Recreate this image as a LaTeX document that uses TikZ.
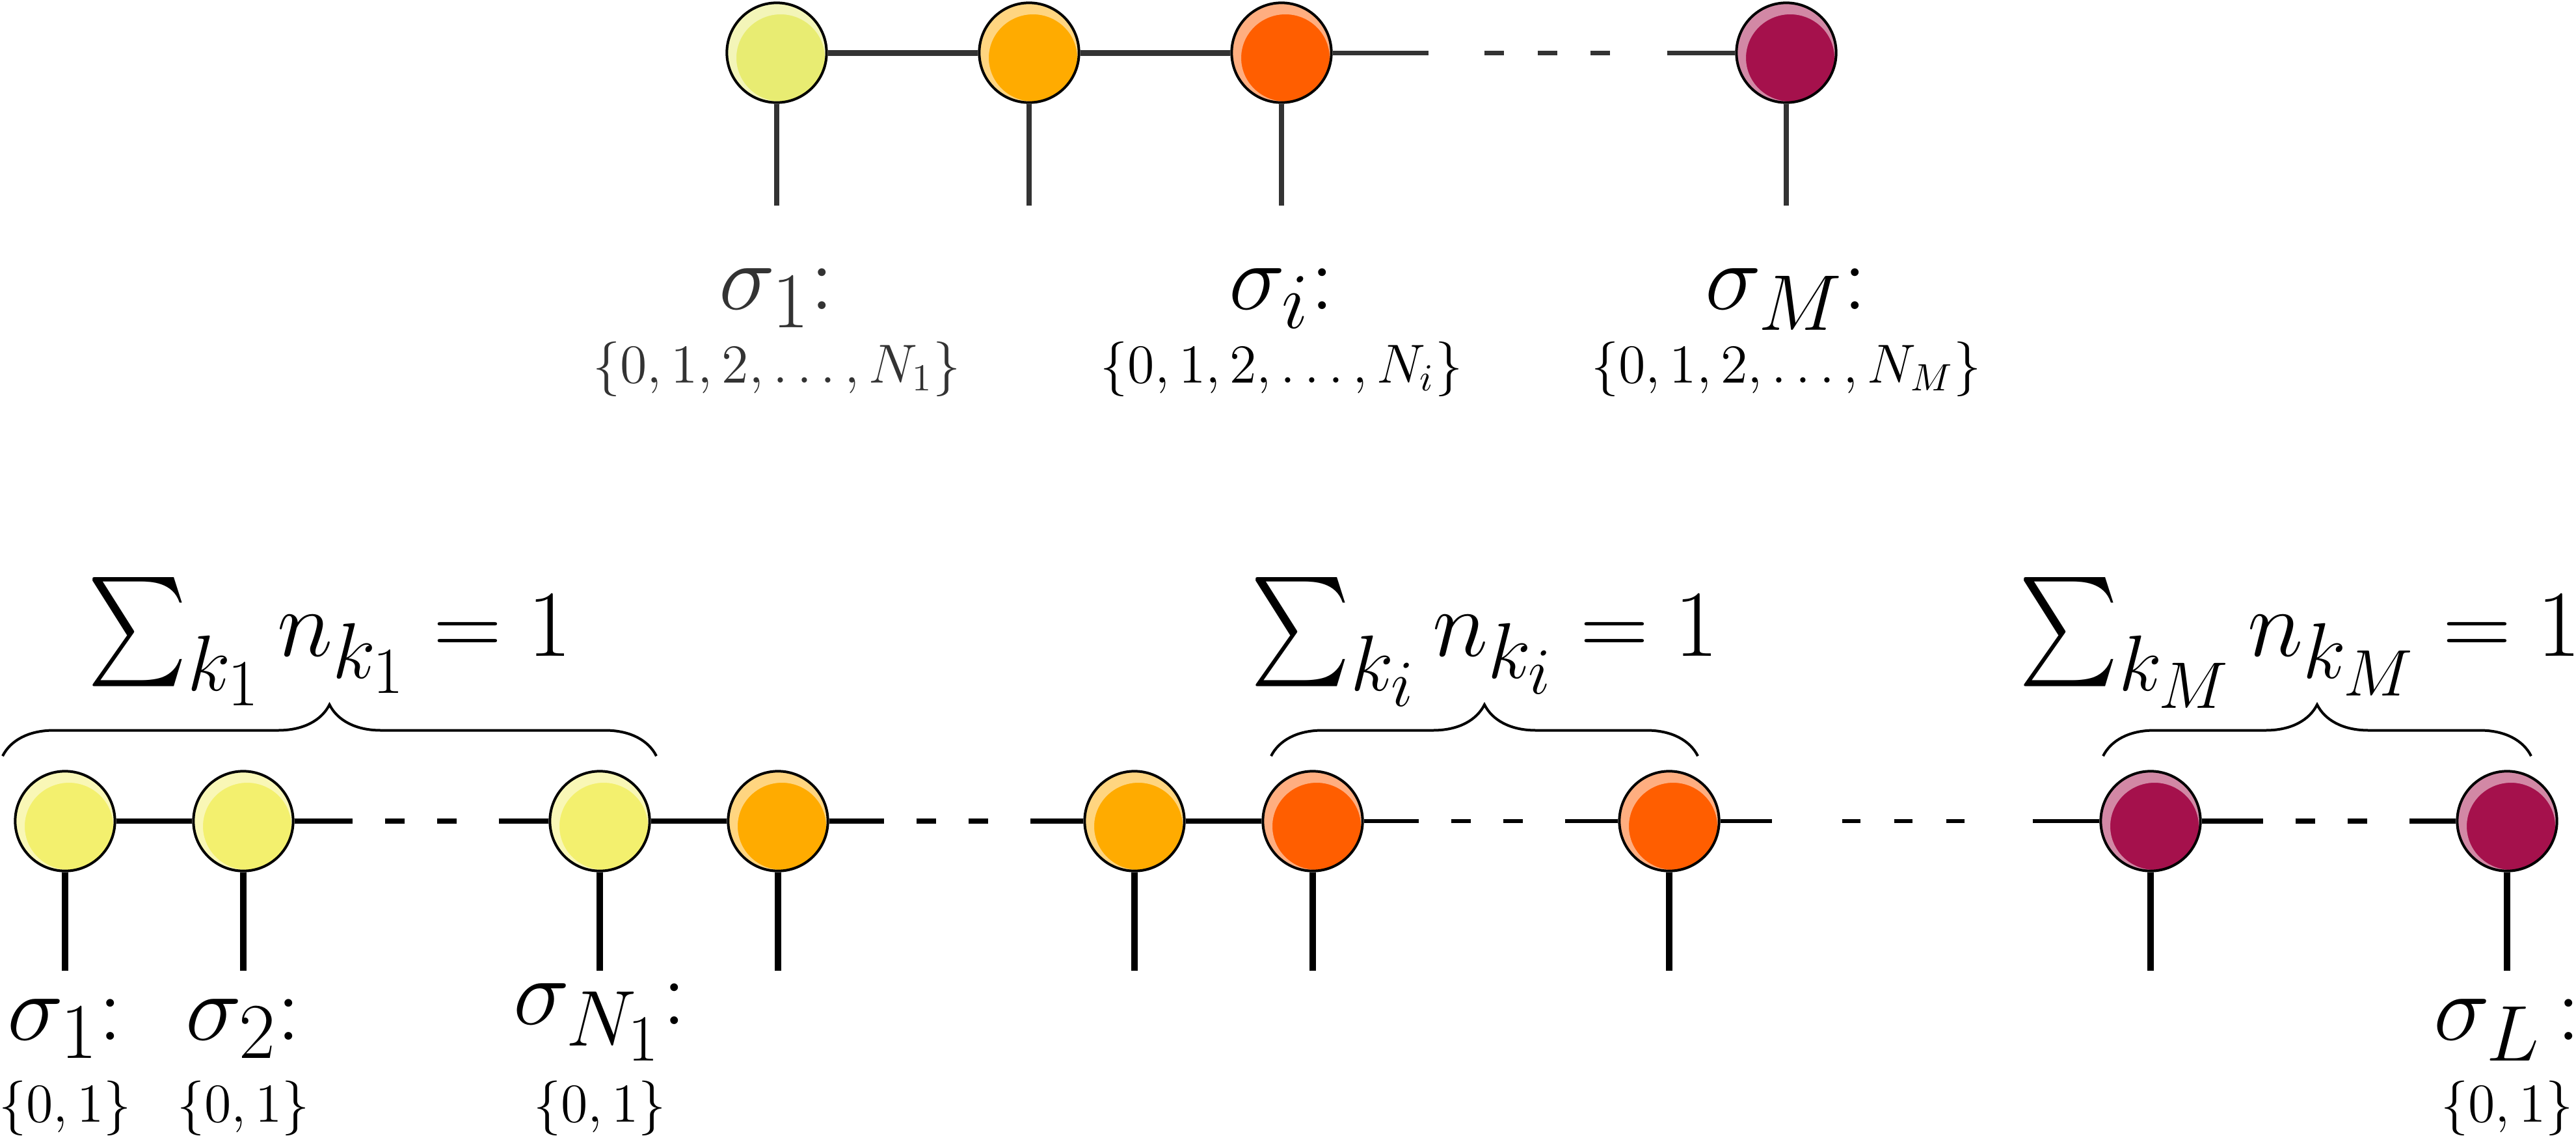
\documentclass[tikz,border=0pt]{standalone}
\usepackage{amsmath}
\usepackage{graphicx}
\usetikzlibrary{positioning, calc, decorations.pathreplacing}

\DeclareMathSizes{24}{24}{19.5}{16.5}

\definecolor{sitea}{HTML}{E8EC72}
\definecolor{sitey}{HTML}{F3F06E}
\definecolor{siteo}{HTML}{FFAB00}
\definecolor{siter}{HTML}{FF5E00}
\definecolor{sitem}{HTML}{A5114C}
\definecolor{bondgray}{HTML}{333333}

% a slightly taller text-style sum
\newcommand{\tallsum}{\mathop{\vcenter{\hbox{\scalebox{1}[1.15]{$\textstyle\sum$}}}}\nolimits}

\tikzset{
    site/.style={circle, draw=black, line width=0.24mm, minimum size=9.2mm, inner sep=0pt, fill=#1,
        path picture={\fill[white, opacity=.5, even odd rule]
            (path picture bounding box.center) circle (5mm)
            ([shift={(0.36mm,-0.48mm)}]path picture bounding box.center) ellipse (4.08mm and 4.02mm);}},
    topbond/.style={draw=bondgray, line width=0.54mm},
    topthin/.style={draw=bondgray, line width=0.42mm},
    topleg/.style={draw=bondgray, line width=0.48mm},
    bond/.style={line width=0.45mm},
    thinbond/.style={line width=0.34mm},
    leg/.style={line width=0.6mm},
    dotbond/.style={dash pattern=on #1 off 3mm on 1.8mm off 3mm on 1.8mm off 3.9mm on 30mm},
    lbl/.style={anchor=base, inner sep=0pt, font=\fontsize{24}{28}\selectfont},
    setlbl/.style={anchor=base, inner sep=0pt, font=\Large},
    smallset/.style={anchor=base, inner sep=0pt, font=\fontsize{13.5}{15}\selectfont},
    sumbrace/.style={decorate, decoration={brace, amplitude=4.74mm}, line width=0.24mm}
}

\begin{document}
\begin{tikzpicture}[x=1mm, y=1mm, node distance=16.44mm, on grid]
    \useasboundingbox (0,0) rectangle (237.6,104.7);

    % top chain
    \node[site=sitea] (t1) at (71.64,99.84) {};
    \node[site=siteo, right=23.28mm of t1] (t2) {};
    \node[site=siter, right=23.28mm of t2] (t3) {};
    \node[site=sitem, right=46.56mm of t3] (t4) {};

    \draw[topbond] (t1) -- (t2) (t2) -- (t3);
    \draw[topthin, dash pattern=on 8.82mm off 5.16mm on 1.8mm off 3.12mm on 1.8mm off 3.06mm on 1.8mm off 5.28mm on 20mm] (t3) -- (t4);

    \coordinate (tfoot) at (0,85.74);
    \foreach \n in {1,...,4}
        \draw[topleg] (t\n.south) -- (t\n |- tfoot);

    \coordinate (tsig) at (0,76.2);
    \coordinate (tset) at (0,69.42);
    \node[lbl, text=bondgray] (ts1) at (t1 |- tsig) {$\sigma_1{:}$};
    \node[setlbl, text=bondgray] (tv1) at (t1 |- tset) {$\{0,1,2,\ldots,N_1\}$};
    \node[lbl] (tsi) at (t3 |- tsig) {$\sigma_i{:}$};
    \node[setlbl] (tvi) at (t3 |- tset) {$\{0,1,2,\ldots,N_i\}$};
    \node[lbl] (tsM) at (t4 |- tsig) {$\sigma_M{:}$};
    \node[setlbl] (tvM) at (t4 |- tset) {$\{0,1,2,\ldots,N_M\}$};

    % bottom chain
    \node[site=sitey] (b1) at (6,28.98) {};
    \node[site=sitey, right=of b1] (b2) {};
    \node[site=sitey, right=32.88mm of b2] (b3) {};
    \node[site=siteo, right=of b3] (b4) {};
    \node[site=siteo, right=32.88mm of b4] (b5) {};
    \node[site=siter, right=of b5] (b6) {};
    \node[site=siter, right=32.88mm of b6] (b7) {};
    \node[site=sitem, right=44.4mm of b7] (b8) {};
    \node[site=sitem, right=32.88mm of b8] (b9) {};

    \draw[bond] (b1) -- (b2) (b3) -- (b4) (b5) -- (b6);
    \draw[bond, dotbond=5.34mm] (b2) -- (b3);
    \draw[bond, dotbond=5.04mm] (b4) -- (b5);
    \draw[thinbond, dotbond=5.04mm] (b6) -- (b7);
    \draw[thinbond, dash pattern=on 4.74mm off 6.48mm on 1.68mm off 3.12mm on 1.68mm off 3.12mm on 1.68mm off 6.3mm on 20mm] (b7) -- (b8);
    \draw[bond, dotbond=5.64mm] (b8) -- (b9);

    \coordinate (bfoot) at (0,15.18);
    \foreach \n in {1,...,9}
        \draw[leg] (b\n.south) -- (b\n |- bfoot);

    \coordinate (bsig) at (0,8.82);
    \coordinate (bset) at (0,1.26);
    \node[lbl] (bs1) at (b1 |- bsig) {$\sigma_1{:}$};
    \node[smallset] (bv1) at (b1 |- bset) {$\{0,1\}$};
    \node[lbl] (bs2) at (b2 |- bsig) {$\sigma_2{:}$};
    \node[smallset] (bv2) at (b2 |- bset) {$\{0,1\}$};
    \node[lbl, yshift=1.4mm] (bs3) at (b3 |- bsig) {$\sigma_{N_1}{:}$};
    \node[smallset] (bv3) at (b3 |- bset) {$\{0,1\}$};
    \node[lbl] (bsL) at (b9 |- bsig) {$\sigma_L\,{:}$};
    \node[smallset] (bvL) at (b9 |- bset) {$\{0,1\}$};

    % braces and constraints
    \coordinate (br1a) at (0.24,34.98);
    \coordinate (br1b) at (60.54,34.98);
    \coordinate (br2a) at (117.24,34.98);
    \coordinate (br2b) at (156.6,34.98);
    \coordinate (br3a) at (193.98,34.98);
    \coordinate (br3b) at (233.46,34.98);
    \draw[sumbrace] (br1a) -- (br1b);
    \draw[sumbrace] (br2a) -- (br2b);
    \draw[sumbrace] (br3a) -- (br3b);

    \coordinate (br1m) at ($(br1a)!0.5!(br1b)$);
    \coordinate (br2m) at ($(br2a)!0.5!(br2b)$);
    \coordinate (br3m) at ($(br3a)!0.5!(br3b)+(-1.6,0)$);
    \coordinate (sbase) at (0,44.22);
    \node[lbl] (sum1) at (br1m |- sbase) {$\tallsum_{k_1} n_{k_1} = 1$};
    \node[lbl] (sumi) at (br2m |- sbase) {$\tallsum_{k_i} n_{k_i} = 1$};
    \node[lbl] (sumM) at (br3m |- sbase) {$\tallsum_{k_M} n_{k_M} = 1$};
\end{tikzpicture}
\end{document}
